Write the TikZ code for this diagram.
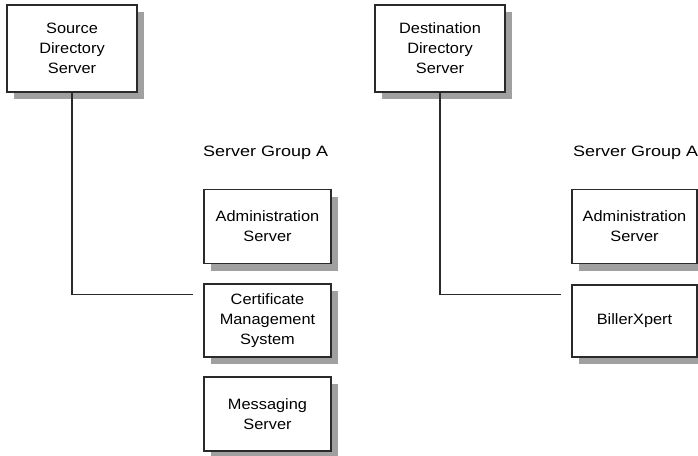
\documentclass[tikz,border=0pt]{standalone}
\usepackage{fontspec}
\setmainfont{Liberation Sans}[FakeStretch=1.09]
\newfontfamily\capfont{Liberation Sans}[FakeStretch=1.2]
\newcommand\captionfont{\capfont\fontsize{15}{20}\selectfont\spaceskip=5pt\relax}
\usetikzlibrary{shadows}
\definecolor{boxline}{HTML}{2A2A2A}
\definecolor{shade}{HTML}{A0A0A0}
\begin{document}
\begin{tikzpicture}[x=1pt,y=-1pt,
  srv/.style={draw=boxline, line width=1.3pt, fill=white, align=center,
    inner sep=0pt, minimum width=130pt, minimum height=87pt,
    font=\fontsize{15}{20}\selectfont,
    drop shadow={shadow xshift=7pt, shadow yshift=-7pt, fill=shade, opacity=1}},
  grp/.style={srv, minimum width=127pt, minimum height=74pt},
  wire/.style={draw=boxline, line width=1.3pt},
  caption/.style={anchor=west, inner sep=0pt, font=\captionfont}]
  \useasboundingbox (0,0) rectangle (698,455);

  % directory servers
  \node[srv] (sds) at (72,48.5) {Source\\Directory\\Server};
  \node[srv] (dds) at (440,48.5) {Destination\\Directory\\Server};

  % left server group
  \node[caption] (capL) at (203,153) {Server Group A};
  \node[grp] (admL) at (267.5,226.5) {Administration\\Server};
  \node[grp, minimum height=73pt] (cms) at (267.5,320.5) {Certificate\\Management\\System};
  \node[grp] (msg) at (267.5,414) {Messaging\\Server};

  % right server group
  \node[caption] (capR) at (573,153) {Server Group A};
  \node[grp, minimum width=125pt] (admR) at (634.5,226.5) {Administration\\Server};
  \node[grp, minimum width=125pt, minimum height=72pt] (bx) at (634.5,321) {BillerXpert};

  % connectors run level with the upper part of the box and stop short of it
  \coordinate (endL) at ([xshift=-10pt,yshift=-11pt]cms.north west);
  \coordinate (endR) at ([xshift=-10pt,yshift=-10pt]bx.north west);
  \draw[wire] (sds.south) |- (endL);
  \draw[wire] (dds.south) |- (endR);
\end{tikzpicture}
\end{document}
